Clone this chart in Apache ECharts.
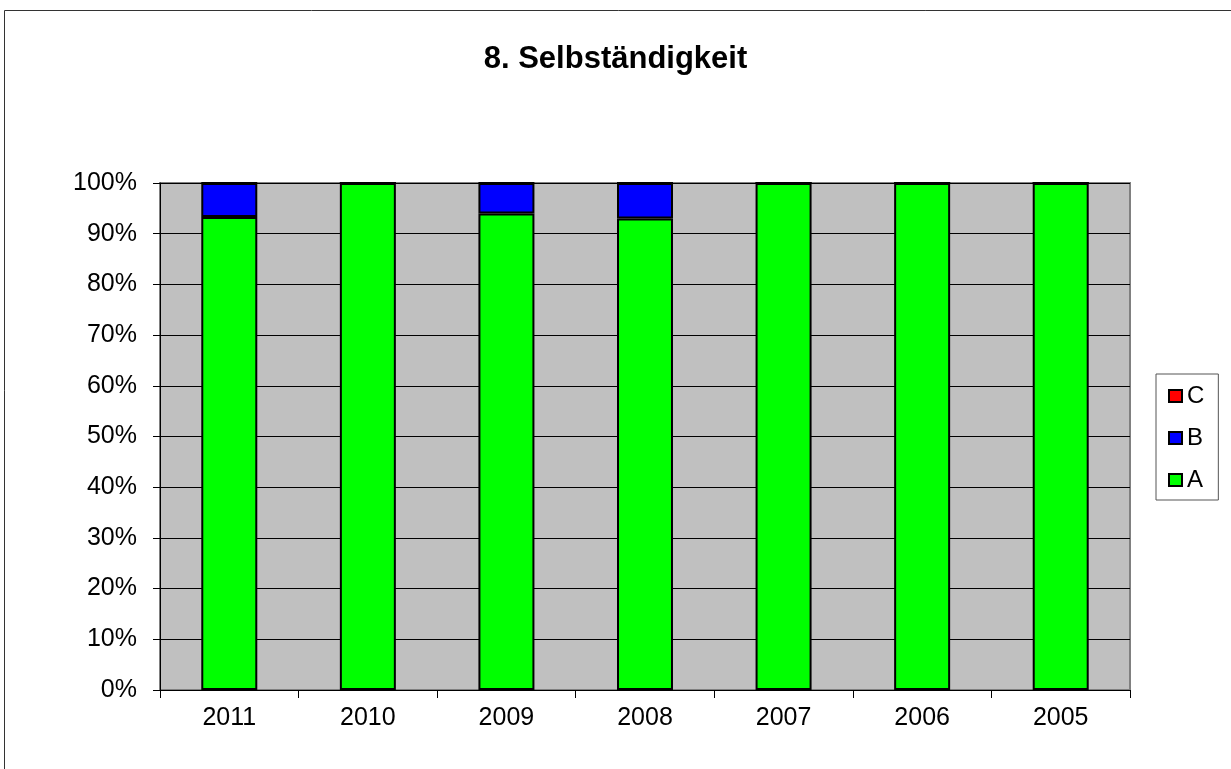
<!DOCTYPE html>
<html>
<head>
<meta charset="utf-8">
<script src="https://cdn.jsdelivr.net/npm/echarts@6/dist/echarts.min.js"></script>
<style>
  html, body { margin: 0; padding: 0; background: #fff; }
  #chart { width: 1231px; height: 769px; }
</style>
</head>
<body>
<div id="chart"></div>
<script>
// data
const years = ['2011', '2010', '2009', '2008', '2007', '2006', '2005'];
const seriesA = [93.3, 100, 94, 93, 100, 100, 100];
const seriesB = [6.7, 0, 6, 7, 0, 0, 0];
const seriesC = [0, 0, 0, 0, 0, 0, 0];

const chart = echarts.init(document.getElementById('chart'));

const barBorder = { borderColor: '#000', borderWidth: 2 };

chart.setOption({
  animation: false,
  textStyle: { fontFamily: 'Liberation Sans, Arial, sans-serif' },
  title: {
    text: '8. Selbständigkeit',
    left: 'center',
    top: 39,
    textStyle: { fontSize: 31, fontWeight: 'bold', color: '#000' }
  },
  graphic: [{
    type: 'rect',
    shape: { x: 4.5, y: 10.5, width: 1240, height: 770 },
    style: { fill: 'none', stroke: '#333', lineWidth: 1 },
    silent: true
  }],
  legend: {
    orient: 'vertical',
    left: 1156,
    top: 374,
    data: ['C', 'B', 'A'],
    icon: 'rect',
    itemWidth: 13,
    itemHeight: 12,
    itemGap: 18,
    padding: [10, 14, 8, 12],
    borderColor: '#555',
    borderWidth: 1,
    textStyle: { fontSize: 24, color: '#000' },
    itemStyle: { borderColor: '#000', borderWidth: 2 }
  },
  grid: {
    left: 160, right: 101, top: 183, bottom: 79,
    show: true,
    backgroundColor: '#C0C0C0',
    borderColor: '#808080',
    borderWidth: 2
  },
  xAxis: {
    type: 'category',
    data: years,
    axisLine: { lineStyle: { color: '#000', width: 1 } },
    axisTick: { show: true, length: 8, lineStyle: { color: '#000' } },
    axisLabel: { fontSize: 25, color: '#000', margin: 16 }
  },
  yAxis: {
    type: 'value',
    min: 0,
    max: 100,
    interval: 10,
    axisLine: { show: true, lineStyle: { color: '#000' } },
    axisTick: { show: true, length: 7, lineStyle: { color: '#000' } },
    axisLabel: { fontSize: 25, color: '#000', margin: 23, formatter: '{value}%' },
    splitLine: { lineStyle: { color: '#000', width: 1 } }
  },
  series: [
    { name: 'A', type: 'bar', stack: 'tot', data: seriesA, barWidth: 56,
      itemStyle: Object.assign({ color: '#00FF00' }, barBorder) },
    { name: 'B', type: 'bar', stack: 'tot', data: seriesB, barWidth: 56,
      itemStyle: Object.assign({ color: '#0000FF' }, barBorder) },
    { name: 'C', type: 'bar', stack: 'tot', data: seriesC, barWidth: 56,
      itemStyle: Object.assign({ color: '#FF0000' }, barBorder) }
  ]
});
</script>
</body>
</html>
